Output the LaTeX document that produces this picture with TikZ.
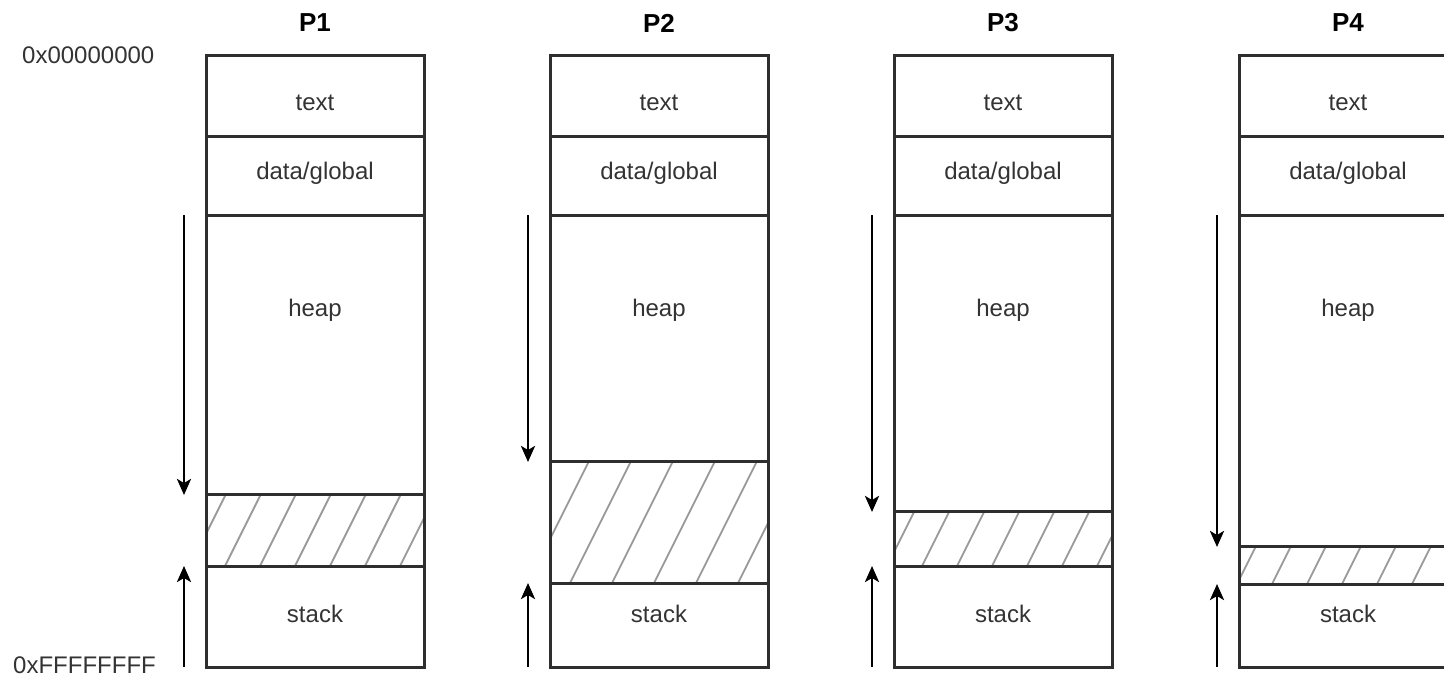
\documentclass[tikz,border=0pt]{standalone}
\usepackage{fontspec}
\setmainfont{Liberation Sans}
\usetikzlibrary{arrows.meta}
\begin{document}
\begin{tikzpicture}[x=1pt,y=-1pt,
  seg/.style={draw=black!82, line width=3pt},
  lbl/.style={font=\fontsize{24}{28}\selectfont, text=black!80, inner sep=0pt},
  ttl/.style={font=\bfseries\fontsize{26}{30}\selectfont, text=black, inner sep=0pt},
  hatchline/.style={draw=black!40, line width=1.8pt},
  growarrow/.style={draw=black, line width=2.8pt, -{Stealth[length=16pt,width=14pt,inset=4pt]}}]
\useasboundingbox (0,0) rectangle (1444,680);
\clip (0,0) rectangle (1444,680);

% address range labels
\node[lbl, anchor=west] (lowaddr) at (22,55) {0x00000000};
\node[lbl, anchor=west] (highaddr) at (13,665) {0xFFFFFFFF};

% one memory layout per process:
% name / left edge / heap bottom / stack top / hatch spacing / first hatch crossing at the stack top
\foreach \name/\xl/\hb/\st/\sp/\ph in {
    P1/206/494/566/35/225,
    P2/550/461/583/42/570,
    P3/894/511/566/35/922,
    P4/1239/546/584/35/1237}{
  % free gap between heap and stack
  \begin{scope}
    \clip (\xl,\hb) rectangle (\xl+218,\st);
    \foreach \k in {-4,...,8}
      \draw[hatchline] (\ph+\k*\sp-60,\st+120) -- (\ph+\k*\sp+80,\st-160);
  \end{scope}
  % outline and segment borders
  \draw[seg] (\xl,55) rectangle (\xl+218,667);
  \foreach \yy in {136,215,\hb,\st}
    \draw[seg] (\xl,\yy) -- (\xl+218,\yy);
  % labels
  \node[ttl] (\name-title) at (\xl+109,23) {\name};
  \node[lbl] (\name-text)  at (\xl+109,103) {text};
  \node[lbl] (\name-data)  at (\xl+109,173) {data/global};
  \node[lbl] (\name-heap)  at (\xl+109,310) {heap};
  \node[lbl] (\name-stack) at (\xl+109,614) {stack};
  % growth directions
  \coordinate (\name-hs) at (\xl-22,215);
  \coordinate (\name-he) at (\xl-22,\hb+1);
  \coordinate (\name-ss) at (\xl-22,667);
  \coordinate (\name-se) at (\xl-22,\st);
  \draw[growarrow] (\name-hs) -- (\name-he);
  \draw[growarrow] (\name-ss) -- (\name-se);
}
\end{tikzpicture}
\end{document}
